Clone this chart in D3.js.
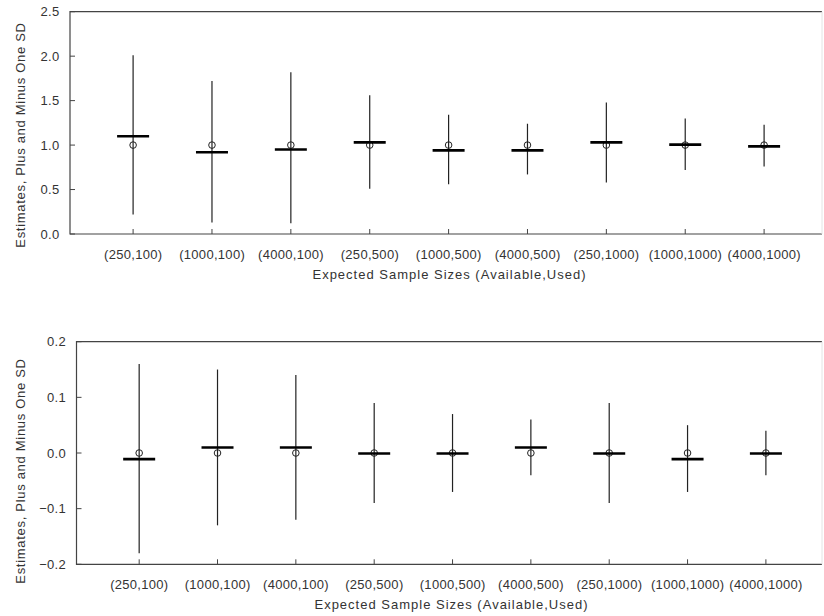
<!DOCTYPE html>
<html>
<head>
<meta charset="utf-8">
<script src="https://cdn.jsdelivr.net/npm/d3@7/dist/d3.min.js"></script>
<style>
  body { margin: 0; background: #fff; }
  text { font-family: Arial, "Liberation Sans", sans-serif; fill: #333; }
</style>
</head>
<body>
<svg width="824" height="616"></svg>
<script>
let categories = ['(250,100)', '(1000,100)', '(4000,100)', '(250,500)', '(1000,500)', '(4000,500)', '(250,1000)', '(1000,1000)', '(4000,1000)'];

// top panel: estimate, estimate - SD, estimate + SD, true value
let topEst = [1.10, 0.92, 0.95, 1.03, 0.94, 0.94, 1.03, 1.005, 0.985];
let topLo = [0.22, 0.13, 0.12, 0.51, 0.56, 0.67, 0.58, 0.72, 0.76];
let topHi = [2.01, 1.72, 1.82, 1.56, 1.34, 1.24, 1.48, 1.30, 1.23];
let topTrue = [1, 1, 1, 1, 1, 1, 1, 1, 1];
let topTicks = [0, 0.5, 1.0, 1.5, 2.0, 2.5];

// bottom panel
let botEst = [-0.011, 0.01, 0.01, -0.001, -0.001, 0.01, -0.001, -0.011, -0.001];
let botLo = [-0.18, -0.13, -0.12, -0.09, -0.07, -0.04, -0.09, -0.07, -0.04];
let botHi = [0.16, 0.15, 0.14, 0.09, 0.07, 0.06, 0.09, 0.05, 0.04];
let botTrue = [0, 0, 0, 0, 0, 0, 0, 0, 0];
let botTicks = [-0.2, -0.1, 0.0, 0.1, 0.2];

let yTitle = 'Estimates, Plus and Minus One SD';
let xTitle = 'Expected Sample Sizes (Available,Used)';

let svg = d3.select('svg');

drawPanel({left: 70, top: 11.7, bottom: 234, right: 822, step: 78.875, titleY: 135, titleX: 449,
  domain: [0, 2.5], ticks: topTicks, est: topEst, lo: topLo, hi: topHi, truth: topTrue});
drawPanel({left: 76.5, top: 341.7, bottom: 564.3, right: 822, step: 78.34, titleY: 471, titleX: 451,
  domain: [-0.2, 0.2], ticks: botTicks, est: botEst, lo: botLo, hi: botHi, truth: botTrue});

function drawPanel(p) {
  let g = svg.append('g');
  let x = d3.scaleLinear().domain([0.2, 9.8]).range([p.left, p.left + 9.6 * p.step]);
  let y = d3.scaleLinear().domain(p.domain).range([p.bottom, p.top]);
  let idx = d3.range(categories.length);

  // frame (right side runs off the picture)
  g.append('path')
    .attr('d', `M${p.right},${p.top}H${p.left}V${p.bottom}H${p.right}`)
    .attr('fill', 'none').attr('stroke', '#444').attr('stroke-width', 1.2);
  g.append('line').attr('x1', p.right).attr('x2', p.right).attr('y1', p.top).attr('y2', p.bottom)
    .attr('stroke', '#e4e4e4');

  // y ticks, pointing inward
  g.selectAll('.ytick').data(p.ticks).join('line')
    .attr('x1', p.left).attr('x2', p.left + 5)
    .attr('y1', d => y(d)).attr('y2', d => y(d))
    .attr('stroke', '#444');
  g.selectAll('.ylab').data(p.ticks).join('text')
    .attr('x', p.left - 10.5).attr('y', d => y(d)).attr('dy', '0.36em')
    .attr('text-anchor', 'end').attr('font-size', 13).attr('letter-spacing', 0.3)
    .text(d => d3.format('.1f')(d));

  // x ticks, pointing inward
  g.selectAll('.xtick').data(idx).join('line')
    .attr('x1', i => x(i + 1)).attr('x2', i => x(i + 1))
    .attr('y1', p.bottom).attr('y2', p.bottom - 5)
    .attr('stroke', '#444');
  g.selectAll('.xlab').data(idx).join('text')
    .attr('x', i => x(i + 1) + 0.15).attr('y', p.bottom + 25)
    .attr('text-anchor', 'middle').attr('font-size', 13).attr('letter-spacing', 0.3)
    .text(i => categories[i]);

  g.append('text')
    .attr('x', p.titleX + 0.5).attr('y', p.bottom + 45)
    .attr('text-anchor', 'middle').attr('font-size', 13).attr('letter-spacing', 1)
    .text(xTitle);
  g.append('text')
    .attr('transform', `translate(25,${p.titleY}) rotate(-90)`)
    .attr('text-anchor', 'middle').attr('font-size', 13).attr('letter-spacing', 0.7)
    .text(yTitle);

  // +/- one SD
  g.selectAll('.sd').data(idx).join('line')
    .attr('x1', i => x(i + 1)).attr('x2', i => x(i + 1))
    .attr('y1', i => y(p.lo[i])).attr('y2', i => y(p.hi[i]))
    .attr('stroke', '#222').attr('stroke-width', 1.2);

  // true value circles
  g.selectAll('.truth').data(idx).join('circle')
    .attr('cx', i => x(i + 1)).attr('cy', i => y(p.truth[i])).attr('r', 3.3)
    .attr('fill', 'none').attr('stroke', '#222').attr('stroke-width', 1);

  // estimates
  g.selectAll('.est').data(idx).join('line')
    .attr('x1', i => x(i + 1) - 16).attr('x2', i => x(i + 1) + 16)
    .attr('y1', i => y(p.est[i])).attr('y2', i => y(p.est[i]))
    .attr('stroke', '#000').attr('stroke-width', 2.6);
}
</script>
</body>
</html>
